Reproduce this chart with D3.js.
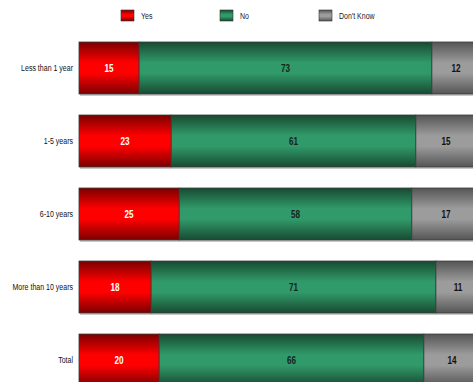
<!DOCTYPE html>
<html>
<head>
<meta charset="utf-8">
<script src="https://cdn.jsdelivr.net/npm/d3@7"></script>
<style>
  html, body { margin: 0; padding: 0; background: #fff; }
  svg { display: block; }
  text { font-family: "Liberation Sans", Arial, sans-serif; }
</style>
</head>
<body>
<svg id="chart" width="473" height="382"></svg>
<script>
// Share of respondents by length of residence
const categories = ["Less than 1 year", "1-5 years", "6-10 years", "More than 10 years", "Total"];
const seriesNames = ["Yes", "No", "Don't Know"];
const yesValues = [15, 23, 25, 18, 20];
const noValues = [73, 61, 58, 71, 66];
const dontKnowValues = [12, 15, 17, 11, 14];

const rows = categories.map((c, i) => ({
  category: c,
  "Yes": yesValues[i],
  "No": noValues[i],
  "Don't Know": dontKnowValues[i]
}));

const NARROW = 0.74; // horizontal squeeze for a condensed look

const svg = d3.select("#chart");
const defs = svg.append("defs");

// Cylinder-style vertical gradients for each series
const palette = {
  "Yes": { edge: "#7a0000", mid: "#ff0000", label: "#ffffff", id: "g-yes" },
  "No": { edge: "#174a31", mid: "#319a6a", label: "#15261d", id: "g-no" },
  "Don't Know": { edge: "#555555", mid: "#9c9c9c", label: "#111111", id: "g-dk" }
};
Object.values(palette).forEach(p => {
  const g = defs.append("linearGradient")
    .attr("id", p.id).attr("x1", 0).attr("y1", 0).attr("x2", 0).attr("y2", 1);
  g.append("stop").attr("offset", "0%").attr("stop-color", p.edge);
  g.append("stop").attr("offset", "40%").attr("stop-color", p.mid);
  g.append("stop").attr("offset", "60%").attr("stop-color", p.mid);
  g.append("stop").attr("offset", "100%").attr("stop-color", p.edge);
});

const x = d3.scaleLinear().domain([0, 100]).range([79, 480]);
const y = d3.scaleBand().domain(categories).range([42, 386]).paddingInner(0.288).paddingOuter(0);

const stacked = d3.stack().keys(seriesNames)(rows);

// Soft shadow under each bar
svg.append("g").selectAll("rect")
  .data(categories)
  .join("rect")
  .attr("x", x(0) + 1)
  .attr("y", d => y(d) + 2)
  .attr("width", x(100) - x(0))
  .attr("height", y.bandwidth())
  .attr("fill", "#c8c8c8");

const layers = svg.append("g").selectAll("g")
  .data(stacked)
  .join("g");

layers.selectAll("rect")
  .data(s => s.map(d => ({ key: s.key, d })))
  .join("rect")
  .attr("x", v => x(v.d[0]))
  .attr("y", v => y(v.d.data.category))
  .attr("width", v => x(v.d[1]) - x(v.d[0]))
  .attr("height", y.bandwidth())
  .attr("fill", v => `url(#${palette[v.key].id})`)
  .attr("stroke", "#3a3a3a")
  .attr("stroke-width", 0.8);

layers.selectAll("g.val")
  .data(s => s.map(d => ({ key: s.key, d })))
  .join("g")
  .attr("class", "val")
  .attr("transform", v => `translate(${(x(v.d[0]) + x(v.d[1])) / 2},${y(v.d.data.category) + y.bandwidth() / 2}) scale(${NARROW},1)`)
  .append("text")
  .attr("dy", "0.36em")
  .attr("text-anchor", "middle")
  .attr("font-size", 11)
  .attr("font-weight", "bold")
  .attr("fill", v => palette[v.key].label)
  .text(v => v.d.data[v.key]);

// Category axis labels
const yAxis = d3.axisLeft(y).tickSize(0).tickPadding(0);
const ya = svg.append("g").attr("transform", `translate(${x(0) - 6},0)`).call(yAxis);
ya.select(".domain").remove();
ya.selectAll("text")
  .attr("x", 0)
  .attr("transform", `scale(${NARROW},1)`)
  .attr("font-size", 9.5)
  .attr("fill", "#111")
  .style("font-family", '"Liberation Sans", Arial, sans-serif');

// Legend
const legendX = d3.scalePoint().domain(seriesNames).range([121, 319]);
const legend = svg.append("g").selectAll("g")
  .data(seriesNames)
  .join("g")
  .attr("transform", d => `translate(${legendX(d)},10)`);
legend.append("rect")
  .attr("width", 13).attr("height", 11)
  .attr("fill", d => `url(#${palette[d].id})`)
  .attr("stroke", "#333").attr("stroke-width", 0.6);
legend.append("g")
  .attr("transform", `translate(20,6) scale(${NARROW},1)`)
  .append("text")
  .attr("dy", "0.35em")
  .attr("font-size", 9.5).attr("fill", "#222")
  .text(d => d);
</script>
</body>
</html>
